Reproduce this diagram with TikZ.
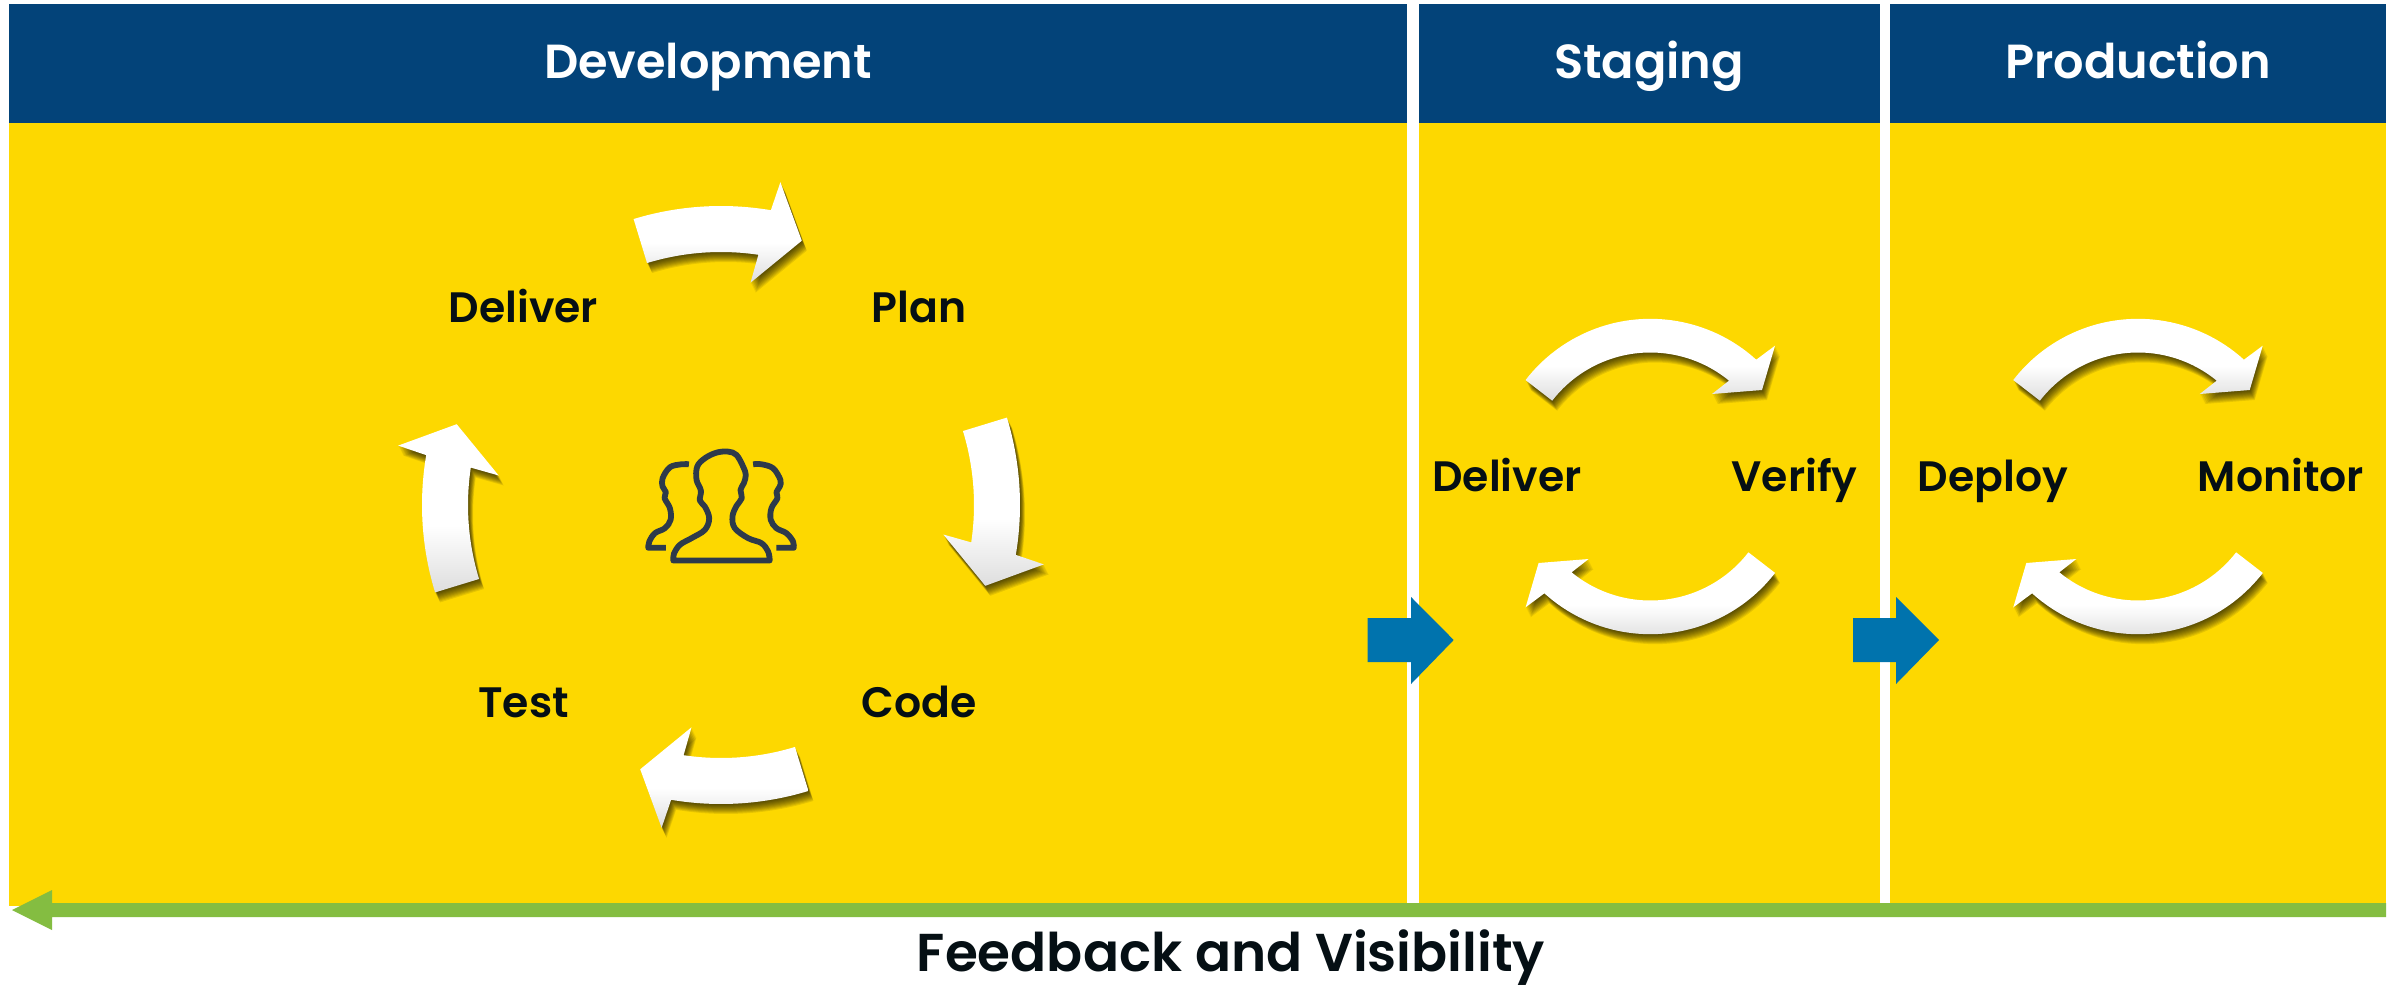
\documentclass[tikz,border=0pt]{standalone}
\usepackage{fontspec}
\setmainfont{Poppins}
\newfontfamily\semifont{Poppins SemiBold}
\definecolor{gold}{RGB}{253,216,0}
\definecolor{navy}{RGB}{3,67,121}
\definecolor{teal}{RGB}{0,115,173}
\definecolor{leaf}{RGB}{132,189,65}
\definecolor{ink}{RGB}{5,15,20}
\definecolor{slate}{RGB}{45,58,75}
\pgfdeclareverticalshading{softwhite}{100bp}{color(0bp)=(black!13); color(25bp)=(black!13); color(45bp)=(white); color(100bp)=(white)}

\newcommand{\bigpath}{(107:299) arc[start angle=107,end angle=80.4,radius=299] -- (59.4,322.8) -- (80.8,264.3) -- (29.5,222.3) -- (81.5:253) arc[start angle=81.5,end angle=107,radius=253] -- cycle}
\newcommand{\smallpath}{(142.3:157.7) arc[start angle=142.3,end angle=47.8,radius=157.7] -- (124.7,130.8) -- (111.7,86.5) -- (61.7,82.5) -- (50.6:124) arc[start angle=50.6,end angle=142.3,radius=124] -- cycle}
% shape #3 about centre #1, turned by #2
\newcommand{\softarrow}[3]{
	\foreach \off in {10,9,...,1} {
		\fill[black, fill opacity=0.09, shift={(0.5*\off,-\off)}, shift={#1}, rotate=#2] #3;
	}
	\shade[shading=softwhite, shift={#1}, rotate=#2] #3;
}

\tikzset{
	headlabel/.style={anchor=base, inner sep=0pt, text=white, font=\semifont\fontsize{13.6}{16}\selectfont},
	looplabel/.style={anchor=base, inner sep=0pt, text=ink, font=\semifont\fontsize{12.1}{15}\selectfont},
	icon/.style={draw=slate, line width=5.8*0.01cm, line join=round, line cap=butt}
}

\begin{document}
\begin{tikzpicture}[x=0.01cm,y=0.01cm]
	\useasboundingbox		(0,0) rectangle (2397,984);
	\fill[white]			(0,0) rectangle (2397,984);

	\fill[gold]				(9,78) rectangle (1407,861);
	\fill[gold]				(1419,78) rectangle (1880,861);
	\fill[gold]				(1890,78) rectangle (2386,861);
	\fill[navy]				(9,861) rectangle (1407,980);
	\fill[navy]				(1419,861) rectangle (1880,980);
	\fill[navy]				(1890,861) rectangle (2386,980);

	\node[headlabel] (development)	at (708,905) {Development};
	\node[headlabel] (staging)		at (1649,905) {Staging};
	\node[headlabel] (production)	at (2138,905) {Production};

	\foreach \turn in {0,-90,180,90} {
		\softarrow{(721,479)}{\turn}{\bigpath}
	}
	\foreach \turn in {0,180} {
		\softarrow{(1650.3,507.5)}{\turn}{\smallpath}
		\softarrow{(2138,507.5)}{\turn}{\smallpath}
	}

	\node[looplabel] (deliver)	at (523.5,662) {Deliver};
	\node[looplabel] (plan)		at (919,662) {Plan};
	\node[looplabel] (code)		at (919,266.5) {Code};
	\node[looplabel] (test)		at (523.5,266.5) {Test};
	\node[looplabel] (delivers)	at (1507,492.5) {Deliver};
	\node[looplabel] (verify)	at (1794.5,492.5) {Verify};
	\node[looplabel] (deploy)	at (1993,492.5) {Deploy};
	\node[looplabel] (monitor)	at (2281,492.5) {Monitor};

	\begin{scope}[shift={(620,554)},x=0.0033333cm,y=-0.0033333cm]
		\draw[icon] plot[smooth,tension=0.6] coordinates {(160,392) (162,372) (180,345) (215,325) (255,300) (268,265) (255,230) (240,212) (243,182) (230,150) (232,110) (255,85) (290,68) (325,65) (350,75) (370,110) (378,135) (372,160) (362,180) (366,205) (350,228) (338,260) (345,295) (385,325) (425,340) (445,365) (450,392)} -- cycle;
		\draw[icon] plot[smooth,tension=0.6] coordinates {(207,103) (185,103) (150,112) (128,145) (128,170) (138,187) (134,205) (150,235) (152,270) (135,295) (105,310) (88,335) (85,354)} -- (138,354);
		\draw[icon] plot[smooth,tension=0.6] coordinates {(400,103) (425,103) (460,115) (482,150) (480,170) (470,187) (473,205) (455,235) (453,270) (470,295) (500,310) (520,335) (522,354)} -- (470,354);
	\end{scope}

	\fill[teal]	(1367.5,366) -- (1411,366) -- (1411,387) -- (1453.7,344) -- (1411,300) -- (1411,322) -- (1367.5,322) -- cycle;
	\fill[teal]	(1853,366) -- (1896,366) -- (1896,387) -- (1939,344) -- (1896,300) -- (1896,322) -- (1853,322) -- cycle;
	\fill[leaf]	(2386,81) -- (52,81) -- (52,94) -- (12,74) -- (52,54) -- (52,67) -- (2386,67) -- cycle;

	\node[looplabel, font=\semifont\fontsize{15.15}{18}\selectfont] (feedback) at (1231,13) {Feedback and Visibility};
\end{tikzpicture}
\end{document}
